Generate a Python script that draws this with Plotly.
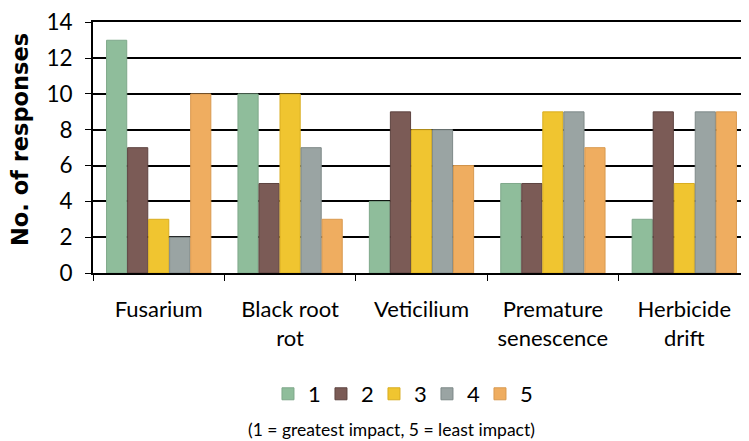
import plotly.graph_objects as go

# disease categories and responses by impact rank (1 = greatest, 5 = least)
categories = ["Fusarium", "Black root<br>rot", "Veticilium", "Premature<br>senescence", "Herbicide<br>drift"]
rank_names = ["1", "2", "3", "4", "5"]
rank1 = [13, 10, 4, 5, 3]
rank2 = [7, 5, 9, 5, 9]
rank3 = [3, 10, 8, 9, 5]
rank4 = [2, 7, 8, 9, 9]
rank5 = [10, 3, 6, 7, 9]
y_ticks = [0, 2, 4, 6, 8, 10, 12, 14]

series = [rank1, rank2, rank3, rank4, rank5]
colors = ["#8fbd9b", "#7b5b56", "#f0c530", "#9aa4a3", "#efad60"]
edges = ["#7fa88a", "#5e4440", "#d9ad20", "#7e8988", "#d99a50"]

fig = go.Figure()
for name, vals, c, e in zip(rank_names, series, colors, edges):
    fig.add_trace(go.Bar(
        x=categories, y=vals, name=name,
        marker=dict(color=c, line=dict(color=e, width=1)),
    ))

# page body has an 8px margin, so offsets are shifted by that
fig.update_layout(
    width=749, height=441,
    margin=dict(l=85, r=7, t=14, b=176),
    barmode="group", bargap=0.2, bargroupgap=0.04,
    plot_bgcolor="white", paper_bgcolor="white",
    font=dict(family="Lato, sans-serif", size=22, color="black"),
    showlegend=True,
    legend=dict(
        orientation="h", x=0.468, xanchor="center", y=-0.482, yanchor="middle",
        font=dict(size=22), itemwidth=30, traceorder="normal",
        entrywidth=8, entrywidthmode="pixels",
    ),
    annotations=[
        dict(
            text="(1 = greatest impact, 5 = least impact)",
            xref="paper", yref="paper", x=0.454, y=-0.622,
            xanchor="center", yanchor="middle", showarrow=False,
            font=dict(size=17.5, family="Lato, sans-serif"),
        ),
        dict(
            text="<b>No. of responses</b>", textangle=-90,
            xref="paper", yref="paper", x=-0.111, y=0.53,
            xanchor="center", yanchor="middle", showarrow=False,
            font=dict(size=22.5, family="DejaVu Sans, sans-serif"),
        ),
    ],
)

fig.update_xaxes(
    range=[-0.5, 4.5], showline=True, linecolor="black", linewidth=2, mirror=True,
    ticks="outside", tickson="boundaries", ticklen=6, tickcolor="black",
    tickfont=dict(size=22), ticklabelstandoff=16, showgrid=False, automargin=False,
)
fig.update_yaxes(
    range=[0, 14.02], tickvals=y_ticks, showline=True, linecolor="black", linewidth=2,
    ticks="outside", ticklen=6, tickcolor="black", tickfont=dict(size=22.5),
    ticklabelstandoff=8, ticklabeloverflow="allow", automargin=False,
    showgrid=True, gridcolor="black", gridwidth=2, zeroline=False,
)

fig.write_html("out.html")
